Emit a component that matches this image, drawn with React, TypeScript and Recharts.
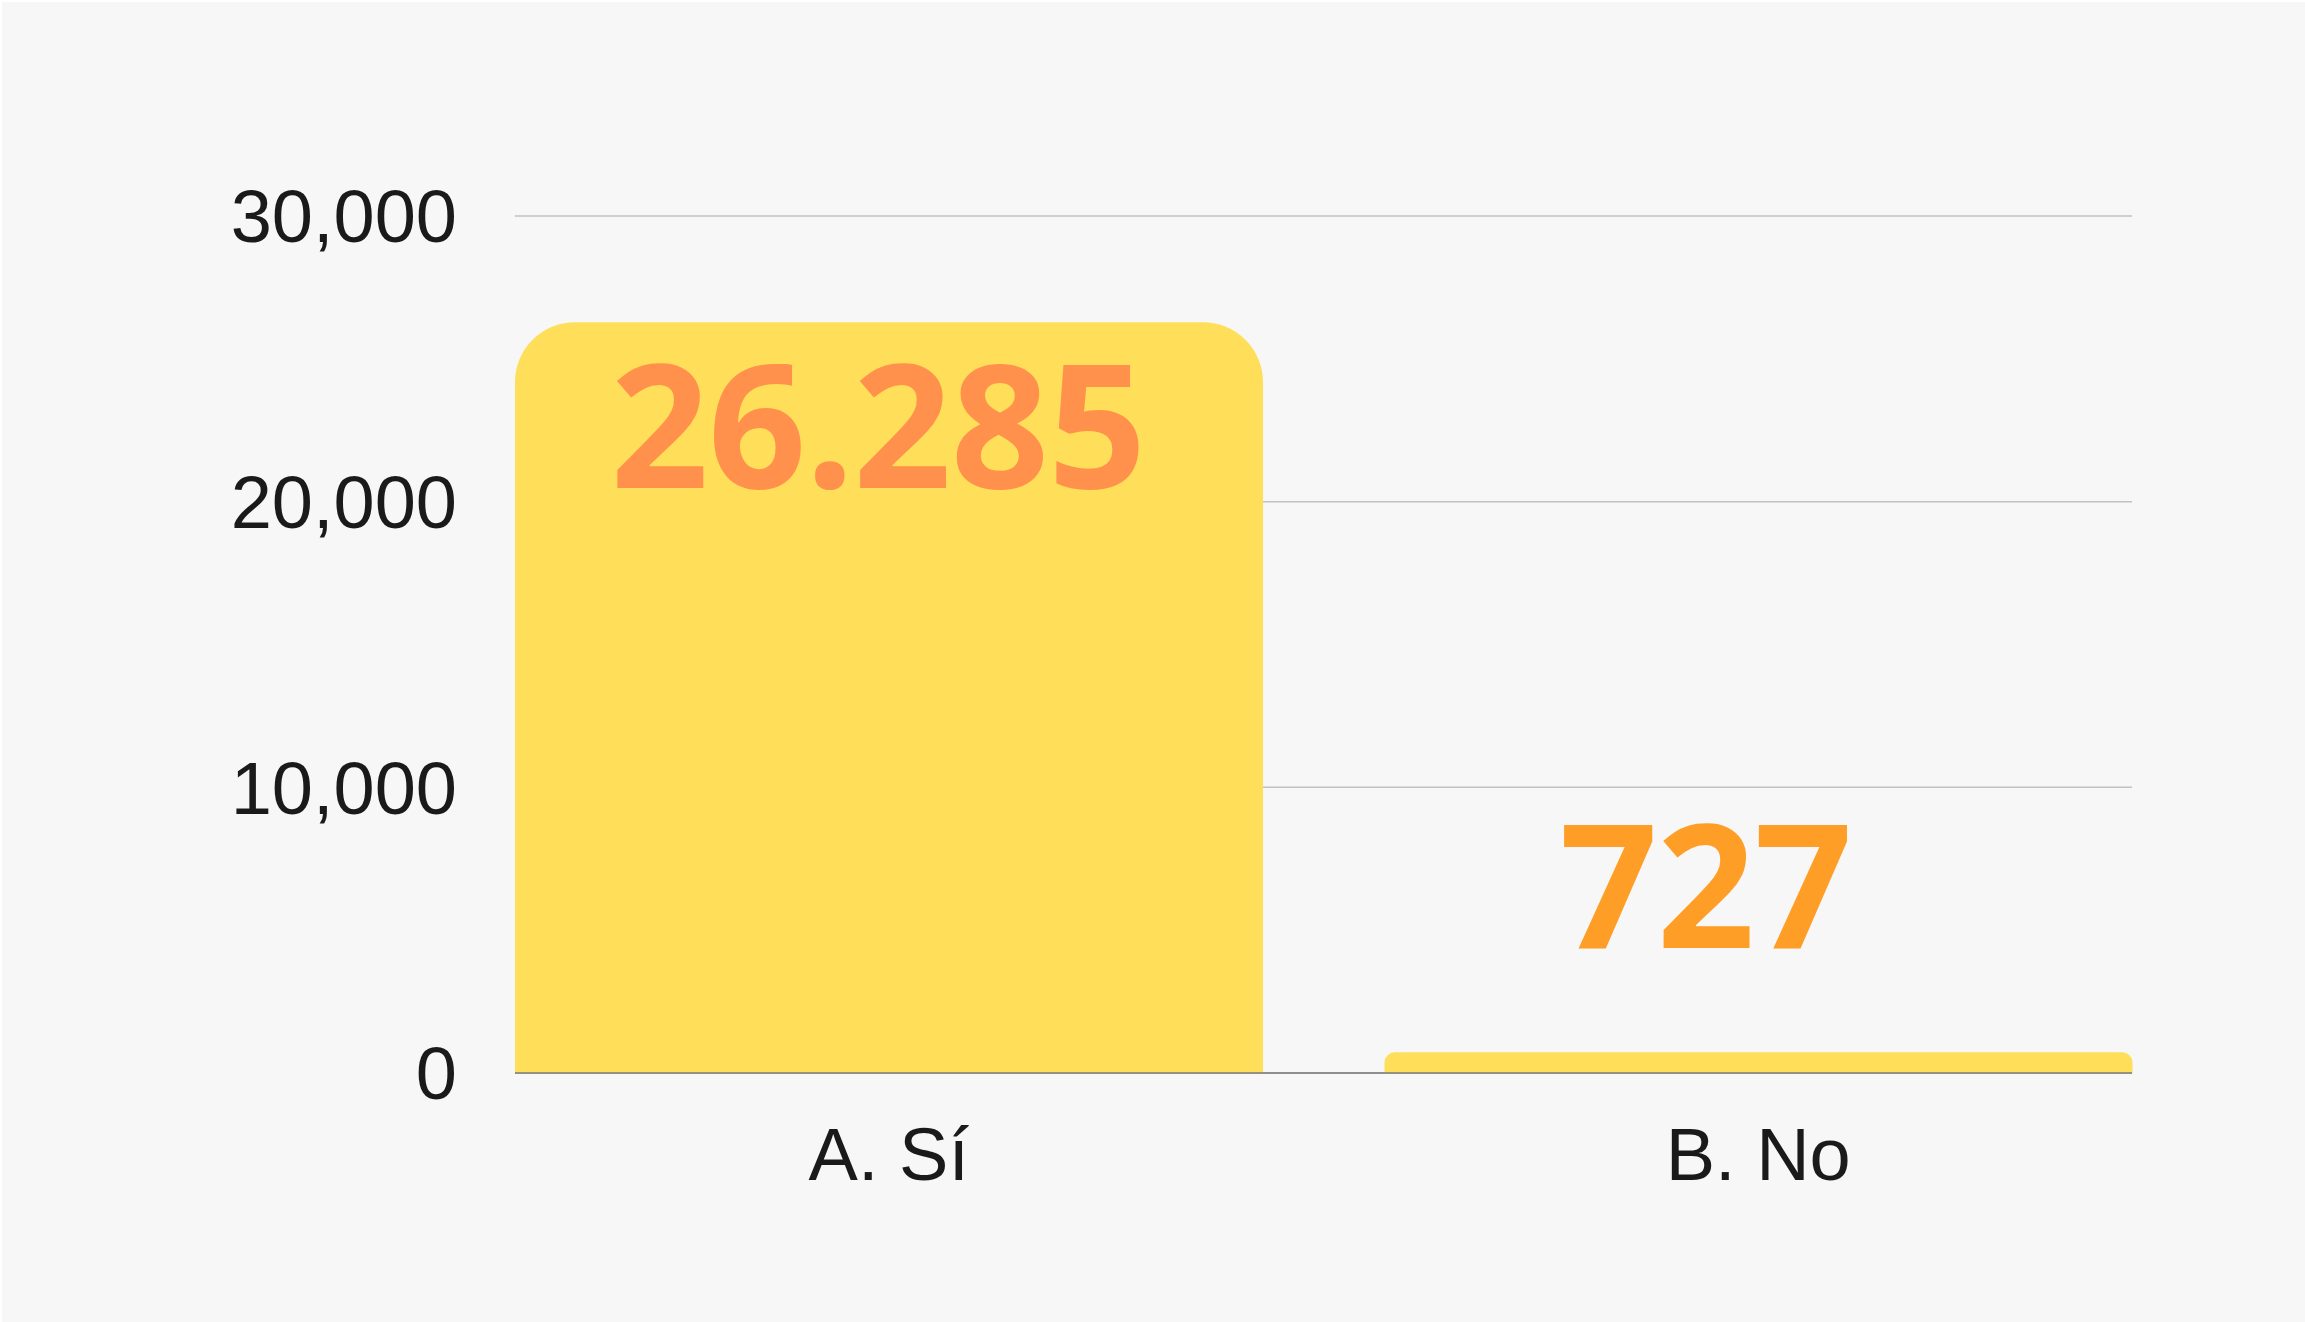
import React from 'react';
import { BarChart, Bar, XAxis, YAxis, CartesianGrid, LabelList } from 'recharts';

const categories = ['A. Sí', 'B. No'];
const values = [26285, 727];
const valueLabels = ['26.285', '727'];
const yTicks = [0, 10000, 20000, 30000];

const data = categories.map((name, i) => ({ name, value: values[i], label: valueLabels[i] }));

const tickFont = { fontFamily: '"Liberation Sans", Arial, sans-serif', fontSize: 74, fill: '#1a1a1a' };

// big value labels: inside the tall bar, floating above the short one
const renderLabel = (props: any) => {
    const { x, y, width, height, value } = props;
    const inside = Number(height) > 200;
    const cx = Number(x) + Number(width) / 2 + (inside ? -11 : -53);
    const baseline = inside ? Number(y) + 166 : Number(y) - 104;
    return (
        <text
            x={cx}
            y={baseline}
            textAnchor="middle"
            fontFamily='"Open Sans", sans-serif'
            fontWeight={700}
            fontSize={172}
            letterSpacing={-1}
            fill={inside ? '#FF914D' : '#FF9E27'}
        >
            {value}
        </text>
    );
};

const App: React.FC = () => {
    return (
        <div style={{ position: 'absolute', left: 0, top: 0, width: 2305, height: 1322, background: '#ffffff' }}>
            <div style={{ position: 'absolute', left: 2, top: 2, width: 2303, height: 1320, background: '#f7f7f7' }} />
            <div style={{ position: 'absolute', left: 0, top: 0 }}>
                <BarChart
                    width={2305}
                    height={1322}
                    data={data}
                    margin={{ top: 216, right: 173, left: 0, bottom: 189 }}
                    barSize={748}
                >
                    <CartesianGrid vertical={false} stroke="#c2c2c2" strokeWidth={1.5} />
                    <XAxis
                        dataKey="name"
                        height={60}
                        padding={{ left: -61, right: -61 }}
                        axisLine={{ stroke: '#7a7a7a', strokeWidth: 1.5 }}
                        tickLine={false}
                        tickSize={0}
                        tickMargin={54}
                        tick={tickFont}
                    />
                    <YAxis
                        width={515}
                        domain={[0, 30000]}
                        ticks={yTicks}
                        axisLine={false}
                        tickLine={false}
                        tickSize={0}
                        tickMargin={58}
                        tick={tickFont}
                        tickFormatter={(v: number) => v.toLocaleString('en-US')}
                    />
                    <Bar dataKey="value" fill="#FFDE59" radius={[60, 60, 0, 0]} isAnimationActive={false}>
                        <LabelList dataKey="label" content={renderLabel} />
                    </Bar>
                </BarChart>
            </div>
        </div>
    );
};

export default App;
